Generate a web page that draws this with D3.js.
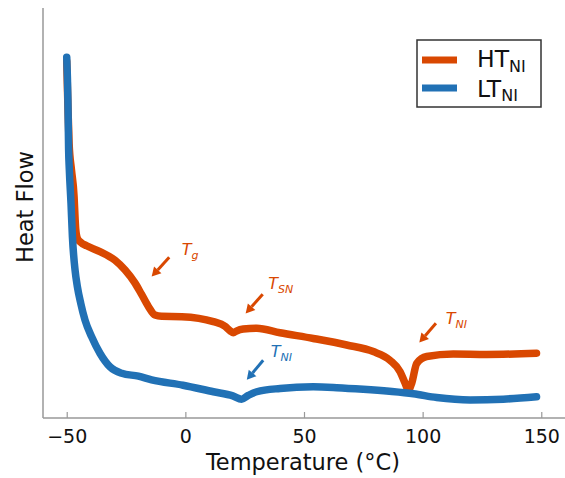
<!DOCTYPE html>
<html>
<head>
<meta charset="utf-8">
<script src="https://cdn.jsdelivr.net/npm/d3@7.9.0/dist/d3.min.js"></script>
<style>
  body { margin: 0; background: #fff; }
  text { font-family: "DejaVu Sans", sans-serif; }
</style>
</head>
<body>
<svg id="chart" width="565" height="478"></svg>
<script>
// temperature (°C) and heat flow (arb. units)
const htTemp = [-50, -49.5, -49.0, -48.0, -46.9, -46.5, -46.2, -45.5, -44, -41.6, -36, -29.7, -25.4, -21.2, -18.5, -15.6, -12.8, -10, -1.5, 11.8, 16.7, 19, 20.2, 21.5, 24.4, 30.1, 39.9, 53.9, 68, 79.2, 86.2, 90.5, 92.6, 94, 95.4, 97.5, 101.7, 112.9, 127, 148];
const htFlow = [8.7, 7.6, 6.7, 6.05, 5.4, 4.9, 4.6, 4.38, 4.28, 4.2, 4.06, 3.85, 3.61, 3.29, 3.02, 2.72, 2.51, 2.48, 2.47, 2.35, 2.24, 2.12, 2.08, 2.12, 2.17, 2.19, 2.08, 1.94, 1.78, 1.62, 1.41, 1.13, 0.85, 0.68, 0.85, 1.33, 1.5, 1.56, 1.55, 1.58];

const ltTemp = [-50, -49.5, -49.2, -48.9, -48.2, -47.6, -46.5, -45.5, -44.1, -42.3, -39.5, -36, -31.8, -26.8, -19.8, -14.2, -1, 11.8, 20, 23.7, 26.5, 30.1, 39.9, 53.9, 63.8, 75, 86, 96.1, 105.9, 120, 134, 148];
const ltFlow = [8.8, 7.76, 6.54, 6.05, 5.24, 4.42, 3.61, 3.2, 2.8, 2.39, 1.98, 1.58, 1.25, 1.09, 1.02, 0.93, 0.8, 0.64, 0.54, 0.46, 0.55, 0.64, 0.72, 0.76, 0.74, 0.7, 0.65, 0.59, 0.5, 0.44, 0.46, 0.52];

const xTicks = [-50, 0, 50, 100, 150];

const htColor = "#d94801";
const ltColor = "#2171b5";

// annotations: subscript, colour, text pos, arrow tail, arrow head (data coords)
const notes = [
  { sub: "g",  color: htColor, text: [-1.5, 3.98], tail: [-6.8, 3.92], head: [-14.2, 3.45] },
  { sub: "SN", color: htColor, text: [34.9, 3.15], tail: [32.6, 3.02], head: [25.4, 2.55] },
  { sub: "NI", color: ltColor, text: [36.0, 1.48], tail: [32.8, 1.41], head: [25.9, 0.93] },
  { sub: "NI", color: htColor, text: [109.7, 2.30], tail: [105.6, 2.31], head: [98.6, 1.84] },
];

const svg = d3.select("#chart");
const x = d3.scaleLinear().domain([-60, 160]).range([43, 565]);
const y = d3.scaleLinear().domain([0, 10]).range([418, 8]);

// spines
svg.append("line").attr("x1", 43).attr("x2", 43).attr("y1", 8).attr("y2", 418)
  .attr("stroke", "#999").attr("stroke-width", 1.5);
svg.append("line").attr("x1", 43).attr("x2", 565).attr("y1", 418).attr("y2", 418)
  .attr("stroke", "#999").attr("stroke-width", 1.5);

// x axis
const xAxis = d3.axisBottom(x).tickValues(xTicks).tickSizeInner(-6).tickSizeOuter(0)
  .tickPadding(12).tickFormat(d => d < 0 ? "\u2212" + Math.abs(d) : d);
const gx = svg.append("g").attr("transform", "translate(0,418)").call(xAxis);
gx.select(".domain").remove();
gx.selectAll(".tick line").attr("stroke", "#999").attr("stroke-width", 1.2);
gx.selectAll(".tick text").attr("font-size", 19).attr("fill", "#111")
  .attr("font-family", "DejaVu Sans");

svg.append("text").attr("x", 303).attr("y", 470).attr("text-anchor", "middle")
  .attr("font-size", 22.5).attr("fill", "#111").text("Temperature (°C)");
svg.append("text").attr("transform", "translate(33,207) rotate(-90)")
  .attr("text-anchor", "middle").attr("font-size", 22.5).attr("fill", "#111").text("Heat Flow");

// curves
const line = d3.line().x(d => x(d[0])).y(d => y(d[1])).curve(d3.curveMonotoneX);
svg.append("path").datum(d3.zip(htTemp, htFlow)).attr("d", line)
  .attr("fill", "none").attr("stroke", htColor).attr("stroke-width", 7.5)
  .attr("stroke-linecap", "round").attr("stroke-linejoin", "round");
svg.append("path").datum(d3.zip(ltTemp, ltFlow)).attr("d", line)
  .attr("fill", "none").attr("stroke", ltColor).attr("stroke-width", 7.5)
  .attr("stroke-linecap", "round").attr("stroke-linejoin", "round");

// annotation arrows
notes.forEach(n => {
  const x0 = x(n.tail[0]), y0 = y(n.tail[1]);
  const x1 = x(n.head[0]), y1 = y(n.head[1]);
  const dx = x1 - x0, dy = y1 - y0, len = Math.hypot(dx, dy);
  const ux = dx / len, uy = dy / len;
  const hl = 9, hw = 5;
  const bx = x1 - ux * hl, by = y1 - uy * hl;
  svg.append("line").attr("x1", x0).attr("y1", y0).attr("x2", bx).attr("y2", by)
    .attr("stroke", n.color).attr("stroke-width", 3);
  svg.append("path")
    .attr("d", `M${x1},${y1}L${bx - uy * hw},${by + ux * hw}L${bx + uy * hw},${by - ux * hw}Z`)
    .attr("fill", n.color);
  const t = svg.append("text").attr("x", x(n.text[0])).attr("y", y(n.text[1]))
    .attr("fill", n.color).attr("font-style", "italic").attr("font-size", 16);
  t.append("tspan").text("T");
  t.append("tspan").attr("dy", 4).attr("font-size", 11).text(n.sub);
});

// legend
const lg = svg.append("g");
lg.append("rect").attr("x", 417).attr("y", 40).attr("width", 124).attr("height", 67)
  .attr("fill", "#fff").attr("stroke", "#333").attr("stroke-width", 1.5);
[["HT", htColor, 60, 67], ["LT", ltColor, 88, 96.5]].forEach(([lab, col, ly, by]) => {
  lg.append("line").attr("x1", 422).attr("x2", 457).attr("y1", ly).attr("y2", ly)
    .attr("stroke", col).attr("stroke-width", 7);
  const t = lg.append("text").attr("x", 477).attr("y", by).attr("font-size", 23.5).attr("fill", "#111");
  t.append("tspan").text(lab);
  t.append("tspan").attr("dy", 4.5).attr("font-size", 16).text("NI");
});
</script>
</body>
</html>
